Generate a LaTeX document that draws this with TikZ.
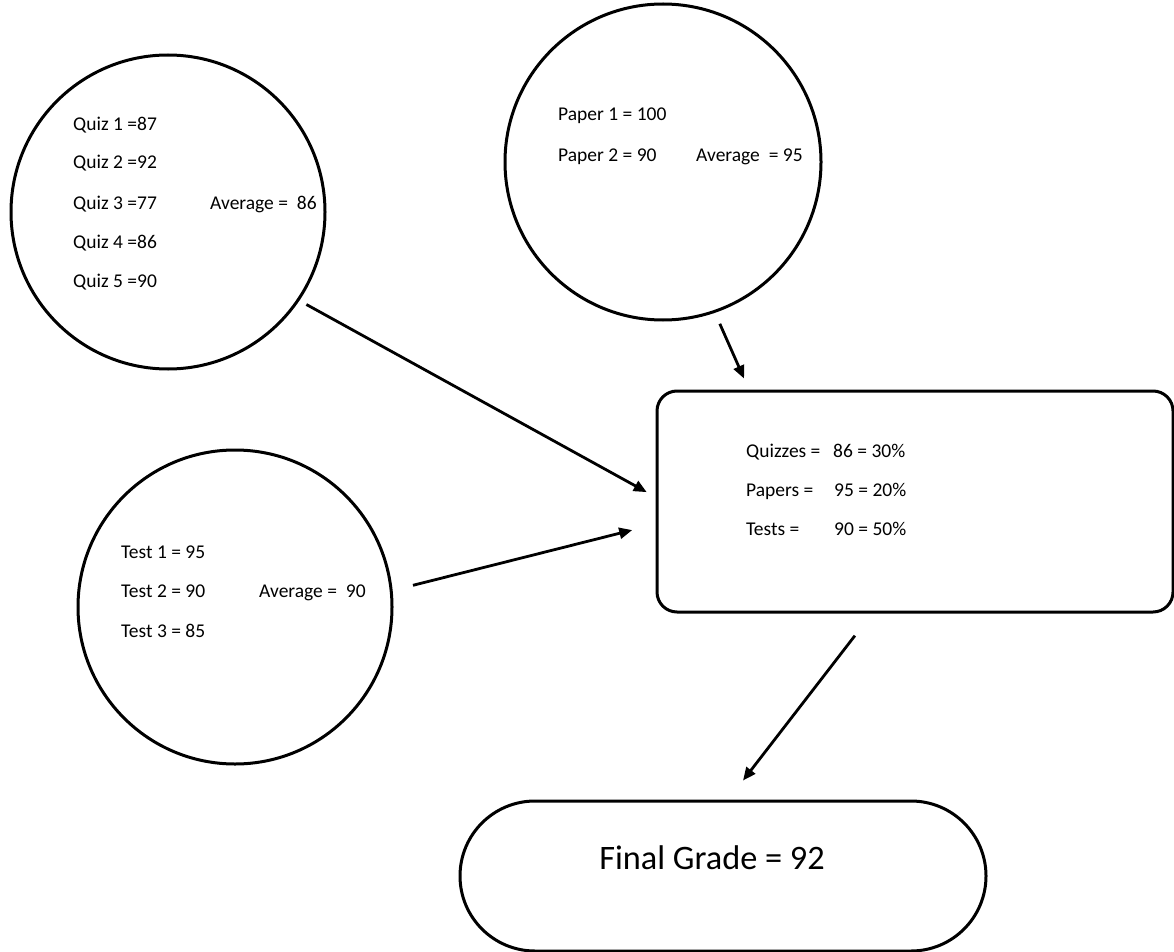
\documentclass[tikz,border=0pt]{standalone}
\usepackage{fontspec}
\setmainfont{Carlito}
\usetikzlibrary{arrows.meta}
\begin{document}
\begin{tikzpicture}[x=1pt,y=-1pt,
  shapeline/.style={draw=black,line width=3pt},
  bubble/.style={shapeline,circle,minimum size=314pt,inner sep=0pt},
  lbl/.style={anchor=base west,inner sep=0pt,font=\fontsize{19.5}{22}\selectfont},
  conn/.style={line width=2.8pt,-{Triangle[length=13pt,width=11pt]}}]
\useasboundingbox (0,0) rectangle (1174,952);

% shapes
\node[bubble] (quiz) at (168,212) {};
\node[bubble,minimum size=316pt] (paper) at (663,162) {};
\node[bubble] (test) at (235,607) {};
\node[shapeline,rectangle,rounded corners=20pt,minimum width=516pt,minimum height=221pt] (rect) at (915,501.5) {};
\node[shapeline,rectangle,rounded corners=75pt,minimum width=526pt,minimum height=150pt] (final) at (723,876) {};

% quiz texts
\node[lbl] (q1) at (73,131) {Quiz 1 =87};
\node[lbl] (q2) at (73,169) {Quiz 2 =92};
\node[lbl] (q3) at (73,209) {Quiz 3 =77};
\node[lbl] (q4) at (73,248) {Quiz 4 =86};
\node[lbl] (q5) at (73,287) {Quiz 5 =90};
\node[lbl] (qavg) at (210,209) {Average =\ \ 86};

% paper texts
\node[lbl] (p1) at (558,121) {Paper 1 = 100};
\node[lbl] (p2) at (558,161) {Paper 2 = 90};
\node[lbl] (pavg) at (696,161) {Average\ \ = 95};

% test texts
\node[lbl] (t1) at (121,558) {Test 1 = 95};
\node[lbl] (t2) at (121,597) {Test 2 = 90};
\node[lbl] (t3) at (121,637) {Test 3 = 85};
\node[lbl] (tavg) at (259,597) {Average =\ \ 90};

% summary texts
\node[lbl] (sq) at (746,457) {Quizzes =};
\node[lbl] (sqv) at (833,457) {86 = 30\%};
\node[lbl] (sp) at (746,496) {Papers =};
\node[lbl] (spv) at (834,496) {95 = 20\%};
\node[lbl] (st) at (746,535) {Tests =};
\node[lbl] (stv) at (834,535) {90 = 50\%};

% final
\node[inner sep=0pt,anchor=base,font=\fontsize{34.3}{38}\selectfont] (fg) at (712,869) {Final Grade = 92};

% connectors
\draw[conn,shorten <=8pt,shorten >=10pt] (quiz.-34.65) -- (rect.179);
\draw[conn,shorten <=12pt,shorten >=12pt] (paper.-71.1) -- (rect.146);
\draw[conn,shorten <=21pt,shorten >=24pt] (test.6.8) -- (rect.185.3);
\draw[conn,shorten <=28pt,shorten >=24pt] (rect.-111.8) -- (final.86.6);
\end{tikzpicture}
\end{document}
